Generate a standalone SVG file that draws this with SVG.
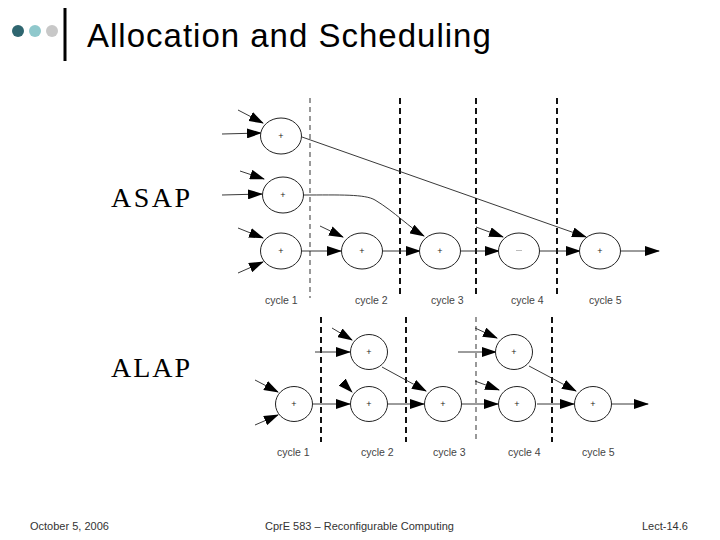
<svg xmlns="http://www.w3.org/2000/svg" width="720" height="540" viewBox="0 0 720 540">
<defs>
<style>
.nd{fill:#fff;stroke:#222;stroke-width:1}
.pl{font-family:"Liberation Sans",Arial,sans-serif;font-size:9px;fill:#222;text-anchor:middle}
.e{fill:none;stroke:#222;stroke-width:0.9;marker-end:url(#ah)}
.dl{stroke:#555;stroke-dasharray:5 4;stroke-width:1.2}
.dk{stroke:#111;stroke-dasharray:6 4;stroke-width:2}
.cy{font-family:"Liberation Sans",Arial,sans-serif;font-size:10.5px;fill:#444}
.big{font-family:"Liberation Serif","Times New Roman",serif;font-size:28px;fill:#000}
.ft{font-family:"Liberation Sans",Arial,sans-serif;font-size:11px;fill:#333}
</style>
<marker id="ah" viewBox="0 0 15 10" refX="14" refY="5" markerWidth="15" markerHeight="10" markerUnits="userSpaceOnUse" orient="auto">
<path d="M0,0 L15,5 L0,10 Z" fill="#000"/>
</marker>
</defs>
<rect width="720" height="540" fill="#fff"/>
<g id="header">
<circle cx="18" cy="31" r="6" fill="#2f6670"/>
<circle cx="35" cy="31" r="6" fill="#8fc8cc"/>
<circle cx="52" cy="31" r="6" fill="#c8c8c8"/>
<rect x="63.5" y="8" width="3" height="53" fill="#000"/>
<text x="87" y="47" font-family="'Liberation Sans',Arial,sans-serif" font-size="33" letter-spacing="1" fill="#000">Allocation and Scheduling</text>
</g>
<text class="big" x="111" y="207" letter-spacing="2.5">ASAP</text>
<text class="big" x="111" y="377" letter-spacing="2">ALAP</text>
<g id="dividers">
<line class="dl" x1="310" y1="98" x2="310" y2="298"/>
<line class="dk" x1="400" y1="98" x2="400" y2="298"/>
<line class="dk" x1="476" y1="98" x2="476" y2="298"/>
<line class="dk" x1="557" y1="98" x2="557" y2="298"/>
<line class="dk" x1="321" y1="317" x2="321" y2="442"/>
<line class="dk" x1="406" y1="317" x2="406" y2="442"/>
<line class="dl" x1="476" y1="317" x2="476" y2="442"/>
<line class="dk" x1="552" y1="317" x2="552" y2="442"/>
</g>
<g id="connectors">
<line class="e" x1="238" y1="110" x2="263" y2="123"/>
<line class="e" x1="222" y1="134" x2="261" y2="133"/>
<line class="e" x1="240" y1="171" x2="264" y2="179"/>
<line class="e" x1="222" y1="195" x2="262" y2="194"/>
<line class="e" x1="238" y1="228" x2="263" y2="238"/>
<line class="e" x1="238" y1="273" x2="263" y2="262"/>
<path class="e" d="M302,137 L586,237"/>
<path class="e" d="M303,195 C340,195 365,194 375,200 C395,212 410,228 424,236"/>
<line class="e" x1="302" y1="251" x2="341" y2="251"/>
<line class="e" x1="320" y1="226" x2="343" y2="237"/>
<line class="e" x1="382" y1="251" x2="420" y2="251"/>
<line class="e" x1="461" y1="251" x2="499" y2="251"/>
<line class="e" x1="476" y1="227" x2="503" y2="237"/>
<line class="e" x1="540" y1="251" x2="580" y2="251"/>
<line class="e" x1="621" y1="251" x2="659" y2="251"/>

<line class="e" x1="332" y1="328" x2="352" y2="340"/>
<line class="e" x1="315" y1="352" x2="350" y2="352"/>
<line class="e" x1="255" y1="380" x2="278" y2="392"/>
<line class="e" x1="255" y1="425" x2="278" y2="415"/>
<line class="e" x1="313" y1="404" x2="350" y2="404"/>
<line class="e" x1="342" y1="382" x2="352" y2="392"/>
<line class="e" x1="382" y1="367" x2="426" y2="391"/>
<line class="e" x1="388" y1="404" x2="424" y2="404"/>
<line class="e" x1="475" y1="328" x2="497" y2="338"/>
<line class="e" x1="458" y1="352" x2="496" y2="352"/>
<line class="e" x1="475" y1="381" x2="499" y2="390"/>
<line class="e" x1="462" y1="404" x2="498" y2="404"/>
<line class="e" x1="529" y1="366" x2="576" y2="391"/>
<line class="e" x1="537" y1="404" x2="574" y2="404"/>
<line class="e" x1="612" y1="404" x2="648" y2="404"/>
</g>
<g id="asap-n1"><ellipse class="nd" cx="281" cy="136" rx="20.5" ry="18"/><text class="pl" x="281" y="139">+</text></g>
<g id="asap-n2"><ellipse class="nd" cx="283" cy="195" rx="20.5" ry="18"/><text class="pl" x="283" y="198">+</text></g>
<g id="asap-n3"><ellipse class="nd" cx="281" cy="251" rx="20.5" ry="18"/><text class="pl" x="281" y="254">+</text></g>
<g id="asap-n4"><ellipse class="nd" cx="362" cy="251" rx="20.5" ry="18"/><text class="pl" x="362" y="254">+</text></g>
<g id="asap-n5"><ellipse class="nd" cx="440" cy="251" rx="20.5" ry="18"/><text class="pl" x="440" y="254">+</text></g>
<g id="asap-n6"><ellipse class="nd" cx="519" cy="251" rx="20.5" ry="18"/><line x1="516" y1="250.5" x2="522" y2="250.5" stroke="#aaa" stroke-width="0.8"/></g>
<g id="asap-n7"><ellipse class="nd" cx="600" cy="251" rx="20.5" ry="18"/><text class="pl" x="600" y="254">+</text></g>

<g id="alap-n1"><ellipse class="nd" cx="369" cy="352" rx="18.5" ry="17.5"/><text class="pl" x="369" y="355">+</text></g>
<g id="alap-n2"><ellipse class="nd" cx="294" cy="404" rx="18.5" ry="17.5"/><text class="pl" x="294" y="407">+</text></g>
<g id="alap-n3"><ellipse class="nd" cx="369" cy="404" rx="18.5" ry="17.5"/><text class="pl" x="369" y="407">+</text></g>
<g id="alap-n4"><ellipse class="nd" cx="443" cy="404" rx="18.5" ry="17.5"/><text class="pl" x="443" y="407">+</text></g>
<g id="alap-n5"><ellipse class="nd" cx="514" cy="352" rx="18.5" ry="17.5"/><text class="pl" x="514" y="355">+</text></g>
<g id="alap-n6"><ellipse class="nd" cx="517" cy="404" rx="18.5" ry="17.5"/><text class="pl" x="517" y="407">+</text></g>
<g id="alap-n7"><ellipse class="nd" cx="593" cy="404" rx="18.5" ry="17.5"/><text class="pl" x="593" y="407">+</text></g>

<g id="labels">
<text class="cy" x="265" y="304">cycle 1</text>
<text class="cy" x="355" y="304">cycle 2</text>
<text class="cy" x="431" y="304">cycle 3</text>
<text class="cy" x="511" y="304">cycle 4</text>
<text class="cy" x="589" y="304">cycle 5</text>
<text class="cy" x="277" y="456">cycle 1</text>
<text class="cy" x="361" y="456">cycle 2</text>
<text class="cy" x="433" y="456">cycle 3</text>
<text class="cy" x="508" y="456">cycle 4</text>
<text class="cy" x="582" y="456">cycle 5</text>
</g>
<g id="footer">
<text class="ft" x="30" y="530">October 5, 2006</text>
<text class="ft" x="265" y="530">CprE 583 – Reconfigurable Computing</text>
<text class="ft" x="642" y="530">Lect-14.6</text>
</g>
</svg>
